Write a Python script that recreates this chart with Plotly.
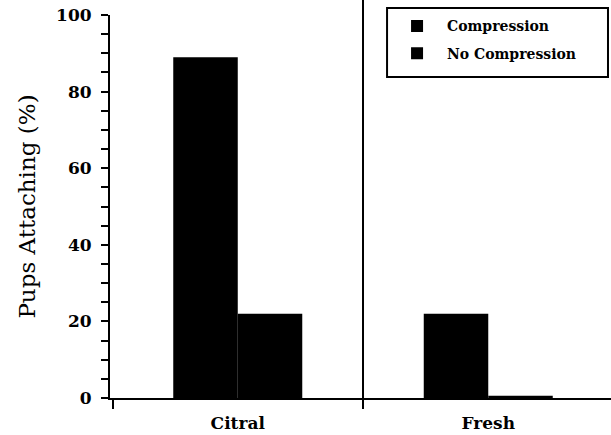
import plotly.graph_objects as go

categories = ["Citral", "Fresh"]
compression = [89, 22]
no_compression = [22, 0.6]
series_names = ["Compression", "No Compression"]
y_ticks = [0, 20, 40, 60, 80, 100]

xpos = list(range(len(categories)))
x_range = [-0.51, 1.49]

fig = go.Figure()
for i, (name, vals) in enumerate(zip(series_names, [compression, no_compression])):
    fig.add_trace(go.Bar(x=xpos, y=vals, name=name, legendgroup="g%d" % i,
                         marker=dict(color="black", line=dict(width=0))))

bold = "DejaVu Serif"
fig.update_layout(
    width=611, height=435,
    margin=dict(l=110, r=0, t=15, b=37),
    paper_bgcolor="white", plot_bgcolor="white",
    barmode="group", bargap=0.485, bargroupgap=0,
    showlegend=True,
    legend=dict(x=0.553, y=1.012, xanchor="left", yanchor="top",
                borderwidth=0, bgcolor="rgba(0,0,0,0)",
                font=dict(family=bold, size=14, color="black", weight="bold"),
                itemwidth=50, traceorder="grouped", tracegroupgap=6),
    font=dict(family=bold, color="black"),
)
fig.update_xaxes(
    range=x_range, tickmode="array", tickvals=xpos,
    ticktext=categories,
    ticks="", showline=True, linecolor="black", linewidth=2,
    showgrid=False, zeroline=False, ticklabelstandoff=9,
    tickfont=dict(family=bold, size=17, color="black", weight="bold"),
    minor=dict(tickmode="linear", tick0=-0.5, dtick=1, ticks="outside", ticklen=9, tickwidth=2, tickcolor="black"),
)
fig.update_yaxes(
    range=[0, 100], tickmode="array", tickvals=y_ticks,
    ticks="outside", ticklen=7, tickwidth=2, tickcolor="black",
    showline=True, linecolor="black", linewidth=2,
    showgrid=False, zeroline=False, ticklabelstandoff=6,
    tickfont=dict(family=bold, size=17, color="black", weight="bold"),
    minor=dict(dtick=5, ticks="outside", ticklen=7, tickwidth=2, tickcolor="black"),
    title=dict(text="Pups Attaching (%)", font=dict(family="DejaVu Serif", size=23, color="black"), standoff=14),
)
# divider between categories
div_x = (0.5 - x_range[0]) / (x_range[1] - x_range[0])
fig.add_shape(type="line", xref="paper", yref="paper", x0=div_x, x1=div_x, y0=-0.0235, y1=1.04,
              line=dict(color="black", width=2))
# legend frame
fig.add_shape(type="rect", xref="paper", yref="paper", x0=0.553, x1=0.994, y0=0.838, y1=1.018,
              line=dict(color="black", width=2), fillcolor="white", layer="above")
fig.write_html("out.html", config={"displayModeBar": False},
               post_script="document.body.style.margin='0px';")
